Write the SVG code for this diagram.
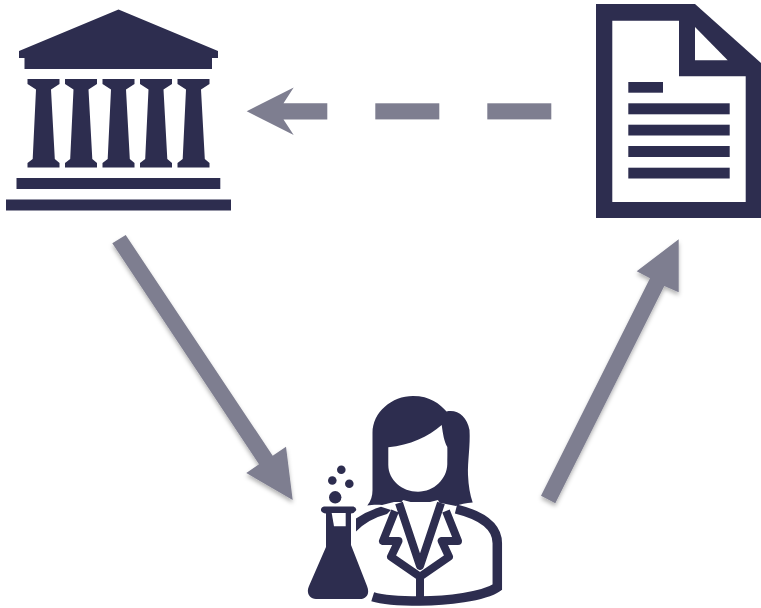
<svg xmlns="http://www.w3.org/2000/svg" width="761" height="608" viewBox="0 0 761 608">
<style>
.d{fill:#2d2d4f}
.w{fill:#fff}
.a{fill:#7e7e90}
.s{fill:none;stroke:#2d2d4f;stroke-width:8;stroke-linejoin:round}
</style>
<defs>
<filter id="sh" x="-20%" y="-20%" width="140%" height="140%"><feDropShadow dx="0" dy="3" stdDeviation="2" flood-color="#000" flood-opacity=".3"/></filter>
<path id="col" d="M27.5 79H59.5V84L51 89.5L54.8 159L59.5 163V167.5H27.5V163L32.7 159L36 89.5L27.5 84Z"/>
</defs>
<rect width="761" height="608" fill="#fff"/>
<g id="connectors">
<g id="arrow-document-institution" class="a">
<path d="M327.3 103.3V119.4H283.5L293.7 135L246.7 111.3L293.7 87.5L283.5 103.3Z"/>
<rect x="375.3" y="103.3" width="64" height="16.1"/>
<rect x="487.3" y="103.3" width="64" height="16.1"/>
</g>
<path id="arrow-institution-scientist" class="a" filter="url(#sh)" d="M112.3 243.3L125.7 235L272.7 455.7L286 446.7L292.7 500L246.3 473L259 464.3Z"/>
<path id="arrow-scientist-document" class="a" filter="url(#sh)" d="M541 495.7L555.3 503.3L664.3 286L678.7 292.3V239.3L636.7 271.3L650 278.3Z"/>
</g>
<g id="institution" class="d">
<path d="M118.5 9.5L218 51V58H212V69H24.5V58H19V51Z"/>
<use href="#col"/>
<use href="#col" x="37.5"/>
<use href="#col" x="75"/>
<use href="#col" x="112.5"/>
<use href="#col" x="150"/>
<rect x="16.5" y="178" width="203.8" height="11"/>
<rect x="6" y="199.5" width="225" height="11"/>
</g>
<g id="document">
<path class="d" d="M596 4H695L761 63V218H596Z"/>
<path class="w" d="M612.3 20.7H679V76.3H745.7V202H612.3Z"/>
<path class="w" d="M695 27V60.3H727.7Z"/>
<g class="d">
<rect x="628.3" y="82" width="34.7" height="10.7"/>
<rect x="628.3" y="103.3" width="101.4" height="11"/>
<rect x="628.3" y="124.7" width="101.4" height="10.8"/>
<rect x="628.3" y="146" width="101.4" height="11"/>
<rect x="628.3" y="167.7" width="101.4" height="10.8"/>
</g>
</g>
<g id="scientist">
<path class="d" d="M367.3 505.5C371 501 372.5 496 372.5 490V433C372.5 412 392 396 413 396C430 396 440 404 446.5 411.5C457 409 467 416 469.5 430C470.5 445 467.5 462 468 475C468.5 486 470 495 472.7 502.5C466 503 460 504 456 506L436 502H394L382 505C376 504.5 371 505 367.3 505.5Z"/>
<path class="w" d="M388.3 447.3C410 445 428 437 441.7 425C443 434 444 441 447.3 447C447.5 453 447.3 458 447.3 464C447 479 434 491.7 418 491.7C402 491.7 388.3 480 388.3 465Z"/>
<path class="w" d="M403 500Q420 506 438 500L446 516L450 541L420 575L394 541L394 513Z"/>
<path class="d" d="M356 518.5Q367 511 381 506.7L391 510L387 514Q368 519 356 531.5Z"/>
<path class="s" d="M399 503L420 566L441 503M395 511L383 541H398.5L391 556.7L420 576.7L449 556.7L441.7 541H458L446 511"/>
<path class="s" d="M420 576V598"/>
<path d="M456 509C480 515 497.3 525 497.3 543.3V587.3C483.3 596.7 446.7 601 420 601C400 601 383.3 600 372.7 596.7" fill="none" stroke="#2d2d4f" stroke-width="9.5"/>
<g class="d">
<circle cx="341.3" cy="469.7" r="4.3"/>
<circle cx="332.3" cy="480.5" r="4.3"/>
<circle cx="349.3" cy="483.7" r="4.3"/>
<circle cx="335.2" cy="497.3" r="6.2"/>
<path d="M324 506.5H353.5Q357 508 356 510.5Q354.5 513 351 513.5V545L367 586C370 593 367 599 360 599H316C309 599 306 592 309 586L326 547V513.5Q322 513 321 510.5Q320.5 507.5 324 506.5Z"/>
</g>
<path class="w" d="M331.7 513H345.7V526.3H334Z"/>
</g>
</svg>
